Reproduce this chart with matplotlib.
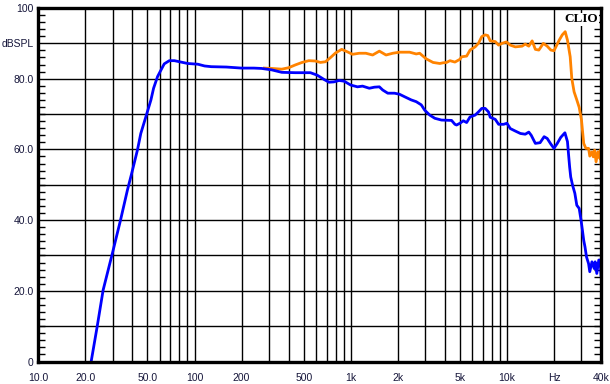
import matplotlib
matplotlib.use('Agg')
import matplotlib.pyplot as plt
from matplotlib.ticker import FixedLocator, MultipleLocator, NullLocator

# ---------------- data ----------------
blue_freq = [21.8, 23.8, 26.0, 29.8, 33.6, 37.2, 39.5, 43.1, 45.3, 48.8, 52.6, 54.7, 58.0,
             60.9, 64.0, 69.0, 74.3, 82.0, 90.6, 105, 116, 128, 160, 200, 240, 269, 312,
             362, 442, 552, 610, 674, 726, 781, 842, 906, 1000, 1104, 1190, 1315, 1416,
             1525, 1602, 1726, 1906, 2053, 2211, 2439, 2626, 2829, 2975, 3206, 3454, 3811,
             4420, 4645, 4758, 5005, 5256, 5521, 5806, 6254, 6568, 6900, 7256, 7621, 7816,
             8420, 8843, 9525, 10000, 10500, 11300, 12200, 13100, 13800, 14300, 15200,
             16300, 17300, 18100, 19100, 20000, 21000, 22100, 23500, 24400, 24800, 25200,
             25600, 26300, 27200, 28000, 29000, 29800, 30400, 31000, 31600, 32300, 33300,
             33900, 35000, 36200, 36700, 37600, 38700, 39500, 40000]
blue_db = [0.0, 9.8, 20.2, 30.6, 40.0, 48.5, 53.0, 59.8, 64.5, 69.2, 74.0, 77.3, 80.6,
           82.4, 84.2, 85.1, 85.1, 84.7, 84.3, 84.1, 83.6, 83.4, 83.3, 83.0, 83.0, 82.9, 82.5,
           81.8, 81.7, 81.7, 81.0, 79.8, 79.0, 79.1, 79.5, 79.3, 78.2, 77.7, 77.9, 77.3, 77.6,
           77.7, 76.8, 75.9, 75.9, 75.6, 74.9, 74.0, 73.5, 72.6, 71.1, 69.7, 68.8, 68.3,
           68.2, 67.1, 66.9, 67.4, 68.1, 67.6, 69.2, 69.7, 70.6, 71.6, 71.6, 70.6, 69.1,
           68.5, 67.1, 67.1, 67.4, 65.9, 65.2, 64.5, 64.3, 64.9, 64.0, 61.7,
           61.9, 63.6, 63.1, 61.5, 60.3, 61.7, 63.4, 64.7, 62.2, 58.5, 55.0,
           52.2, 49.9, 47.6, 44.2, 43.3, 40.0, 37.2, 34.3, 32.4, 29.6, 27.7,
           25.4, 28.2, 26.3, 28.2, 24.9, 28.7, 28.7, 24.4]

orange_freq = [280, 312, 362, 400, 442, 488, 539, 594, 640, 690, 743, 800, 875, 952, 1026,
               1133, 1250, 1381, 1525, 1683, 1858, 2053, 2381, 2626, 2762, 3046, 3365, 3717,
               3904, 4105, 4315, 4645, 5005, 5128, 5521, 5806, 6254, 6568, 6900, 7256, 7541,
               7816, 8420, 8843, 9290, 9916, 10500, 11300, 12500, 13100, 13800, 14500, 15200,
               16000, 17100, 18100, 19100, 20000, 21600, 22600, 23600, 24400, 25400, 26000,
               26900, 28000, 29000, 30000, 31000, 32000, 33300, 33900, 35000, 35700, 36400,
               37200, 38200, 39200, 39600, 40000]
orange_db = [83.0, 82.9, 82.7, 83.1, 83.9, 84.6, 85.1, 85.0, 84.6, 84.8, 86.0, 87.3, 88.3, 87.6, 86.9,
             87.2, 87.2, 86.7, 87.8, 86.7, 87.2, 87.5, 87.5, 87.0, 87.2, 85.6, 84.6, 84.3,
             84.5, 84.6, 85.1, 84.7, 85.5, 86.2, 86.4, 88.1, 89.0, 90.0, 91.9, 92.4, 92.2,
             90.7, 90.5, 89.5, 90.0, 90.4, 89.5, 89.0, 89.2, 89.8, 89.2, 90.7, 88.3,
             88.1, 90.0, 89.2, 88.1, 87.9, 90.9, 92.4, 93.3, 90.9, 86.2, 80.1,
             76.3, 74.0, 71.9, 68.3, 61.7, 60.3, 60.3, 58.1, 59.3, 57.9, 59.8,
             56.5, 59.3, 57.5, 59.8, 56.0]

x_tick_vals = [10, 20, 50, 100, 200, 500, 1000, 2000, 5000, 10000, 20000, 40000]
x_tick_labels = ['10.0', '20.0', '50.0', '100', '200', '500', '1k', '2k', '5k', '10k', 'Hz', '40k']
y_tick_vals = [0, 20, 40, 60, 80, 90, 100]
y_tick_labels = ['0', '20.0', '40.0', '60.0', '80.0', 'dBSPL', '100']
x_grid = [20, 30, 40, 50, 60, 70, 80, 90, 100, 200, 300, 400, 500, 600, 700, 800, 900,
          1000, 2000, 3000, 4000, 5000, 6000, 7000, 8000, 9000, 10000, 20000, 30000]
y_grid = [10, 20, 30, 40, 50, 60, 70, 80, 90]

# ---------------- figure ----------------
plt.rcParams['font.family'] = ['Liberation Sans', 'DejaVu Sans']
W, H = 610, 384
fig = plt.figure(figsize=(W / 100, H / 100), dpi=100)
L, R, T, B = 38.3, 601, 8, 361.5
ax = fig.add_axes([L / W, (H - B) / H, (R - L) / W, (B - T) / H])
ax.set_xscale('log')
ax.set_xlim(10, 40000)
ax.set_ylim(0, 100)

for f in x_grid:
    ax.axvline(f, color='black', lw=1.0, zorder=1)
for v in y_grid:
    ax.axhline(v, color='black', lw=1.0, zorder=1)

ax.plot(orange_freq, orange_db, color='#FF8300', lw=2.0, zorder=3, solid_joinstyle='round')
ax.plot(blue_freq, blue_db, color='#0000FF', lw=2.0, zorder=4, solid_joinstyle='round')

for s in ax.spines.values():
    s.set_linewidth(2.4)
    s.set_color('black')
    s.set_zorder(5)

ax.xaxis.set_major_locator(FixedLocator(x_tick_vals))
ax.set_xticklabels(x_tick_labels)
ax.xaxis.set_minor_locator(NullLocator())
ax.tick_params(axis='x', which='major', length=0, pad=8, labelsize=7.5, colors='#15153a')

ax.yaxis.set_major_locator(FixedLocator(y_tick_vals))
ax.set_yticklabels(y_tick_labels)
ax.yaxis.set_minor_locator(MultipleLocator(2))
ax.tick_params(axis='y', which='major', length=0, pad=3.5, labelsize=7.5, colors='#15153a')
ax.tick_params(axis='y', which='minor', left=True, right=True, direction='in',
               length=5, width=1.0, color='black')

ax.text(0.995, 0.985, 'CLIO', transform=ax.transAxes, ha='right', va='top',
        fontsize=9.5, fontweight='bold', family='Liberation Serif', color='black',
        zorder=6, bbox=dict(facecolor='white', edgecolor='none', pad=0.5))

fig.savefig('out.png', dpi=100, facecolor='white')
